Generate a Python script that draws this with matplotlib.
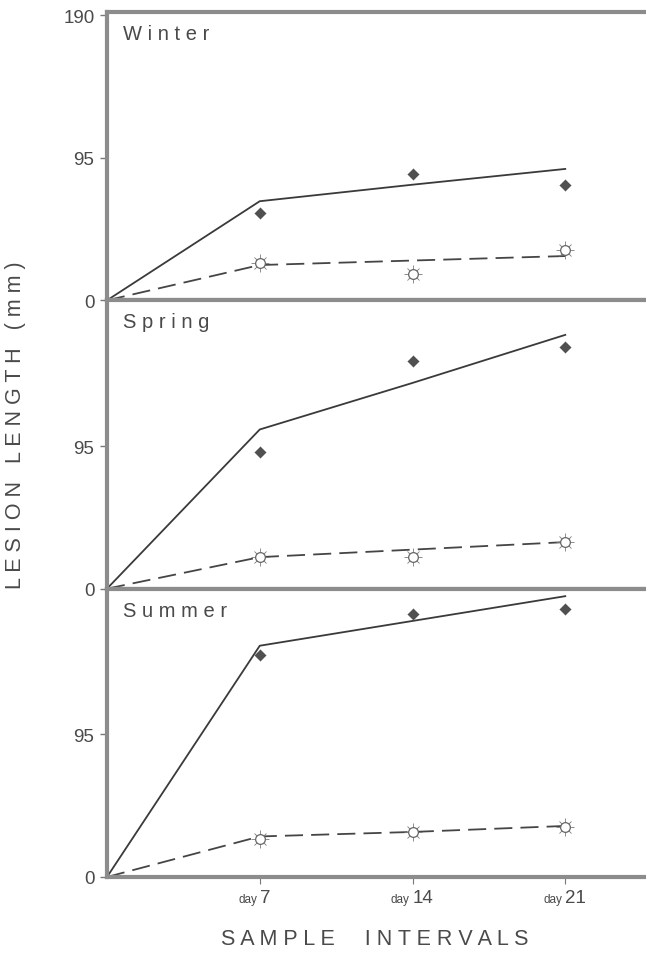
import matplotlib
matplotlib.use('Agg')
import matplotlib.pyplot as plt

plt.rcParams['font.family'] = ['Liberation Sans', 'DejaVu Sans']

# Dias de muestreo
days = [7, 14, 21]
fit_days = [0, 7, 14, 21]
seasons = ['Winter', 'Spring', 'Summer']
x_labels = ['7', '14', '21']

# Medias observadas (rombos llenos / marcadores abiertos)
winter_inoc = [58, 84, 77]
winter_ctrl = [25, 17.5, 33.5]
spring_inoc = [91, 151.5, 161]
spring_ctrl = [21, 21, 31]
summer_inoc = [147.5, 175, 178.5]
summer_ctrl = [25.5, 30, 33]

# Lineas ajustadas
winter_fit_inoc = [0, 66, 77, 87.5]
winter_fit_ctrl = [0, 23.5, 26.5, 29.5]
spring_fit_inoc = [0, 106, 137, 169]
spring_fit_ctrl = [0, 21, 26, 31]
summer_fit_inoc = [0, 154, 170.5, 187]
summer_fit_ctrl = [0, 27, 30, 34]

inoc = [winter_inoc, spring_inoc, summer_inoc]
ctrl = [winter_ctrl, spring_ctrl, summer_ctrl]
fit_inoc = [winter_fit_inoc, spring_fit_inoc, summer_fit_inoc]
fit_ctrl = [winter_fit_ctrl, spring_fit_ctrl, summer_fit_ctrl]

TXT = '#4a4a4a'
SPINE = '#8c8c8c'


def spaced(s):
    # imita el espaciado ancho de las letras del original
    return ' '.join(s)


fig = plt.figure(figsize=(6.46, 9.54), dpi=100)
axes = fig.subplots(3, 1, sharex=True, gridspec_kw=dict(hspace=0))
fig.subplots_adjust(left=107 / 646, right=1.0, top=1 - 13 / 954, bottom=1 - 878 / 954)

for i, ax in enumerate(axes):
    ax.plot(fit_days, fit_inoc[i], color='#3a3a3a', lw=1.3, zorder=2)
    ax.plot(fit_days, fit_ctrl[i], color='#454545', lw=1.3, dashes=(10, 4.5), zorder=2)

    # marcador lleno con pequeña cruz
    ax.plot(days, inoc[i], ls='none', marker='+', ms=9, mew=0.5, color='#6a6a6a', zorder=3)
    ax.plot(days, inoc[i], ls='none', marker='D', ms=5.5, color='#505050', zorder=4)

    # marcador abierto tipo "sol"
    ax.plot(days, ctrl[i], ls='none', marker='+', ms=13, mew=0.6, color='#7a7a7a', zorder=3)
    ax.plot(days, ctrl[i], ls='none', marker='x', ms=9, mew=0.6, color='#7a7a7a', zorder=3)
    ax.plot(days, ctrl[i], ls='none', marker='o', ms=7, mfc='white', mec='#666666',
            mew=0.9, zorder=4)

    ax.set_xlim(0, 24.7)
    ax.set_ylim(0, 192)
    ax.set_yticks([0, 95, 190] if i == 0 else [0, 95])
    ax.tick_params(axis='y', length=5, width=1, color='#777777', pad=4,
                   labelsize=13.5, labelcolor=TXT)

    for side in ['top', 'left', 'bottom']:
        ax.spines[side].set_color(SPINE)
        ax.spines[side].set_linewidth(3)
    ax.spines['right'].set_visible(False)

    ax.text(0.03, 0.925, spaced(seasons[i]), transform=ax.transAxes,
            fontsize=14.5, color=TXT, ha='left', va='center')

    if i < 2:
        ax.tick_params(axis='x', length=0, labelbottom=False)

bottom = axes[-1]
bottom.set_xticks(days)
bottom.set_xticklabels([''] * len(days))
bottom.tick_params(axis='x', length=5, width=0.8, color='#777777', direction='out')
for d, lab in zip(days, x_labels):
    bottom.annotate('day', xy=(d, 0), xycoords=('data', 'axes fraction'),
                    xytext=(-2, -18), textcoords='offset points',
                    ha='right', va='baseline', fontsize=8.5, color=TXT)
    bottom.annotate(lab, xy=(d, 0), xycoords=('data', 'axes fraction'),
                    xytext=(0, -18), textcoords='offset points',
                    ha='left', va='baseline', fontsize=13.5, color=TXT)

fig.text(375 / 646, 1 - 940 / 954, spaced('SAMPLE  INTERVALS'), fontsize=15.5,
         color=TXT, ha='center', va='center')
fig.text(16 / 646, 1 - 425 / 954, spaced('LESION LENGTH (mm)'), fontsize=15.5,
         color=TXT, ha='center', va='center', rotation=90)

fig.savefig('out.png', dpi=100)
